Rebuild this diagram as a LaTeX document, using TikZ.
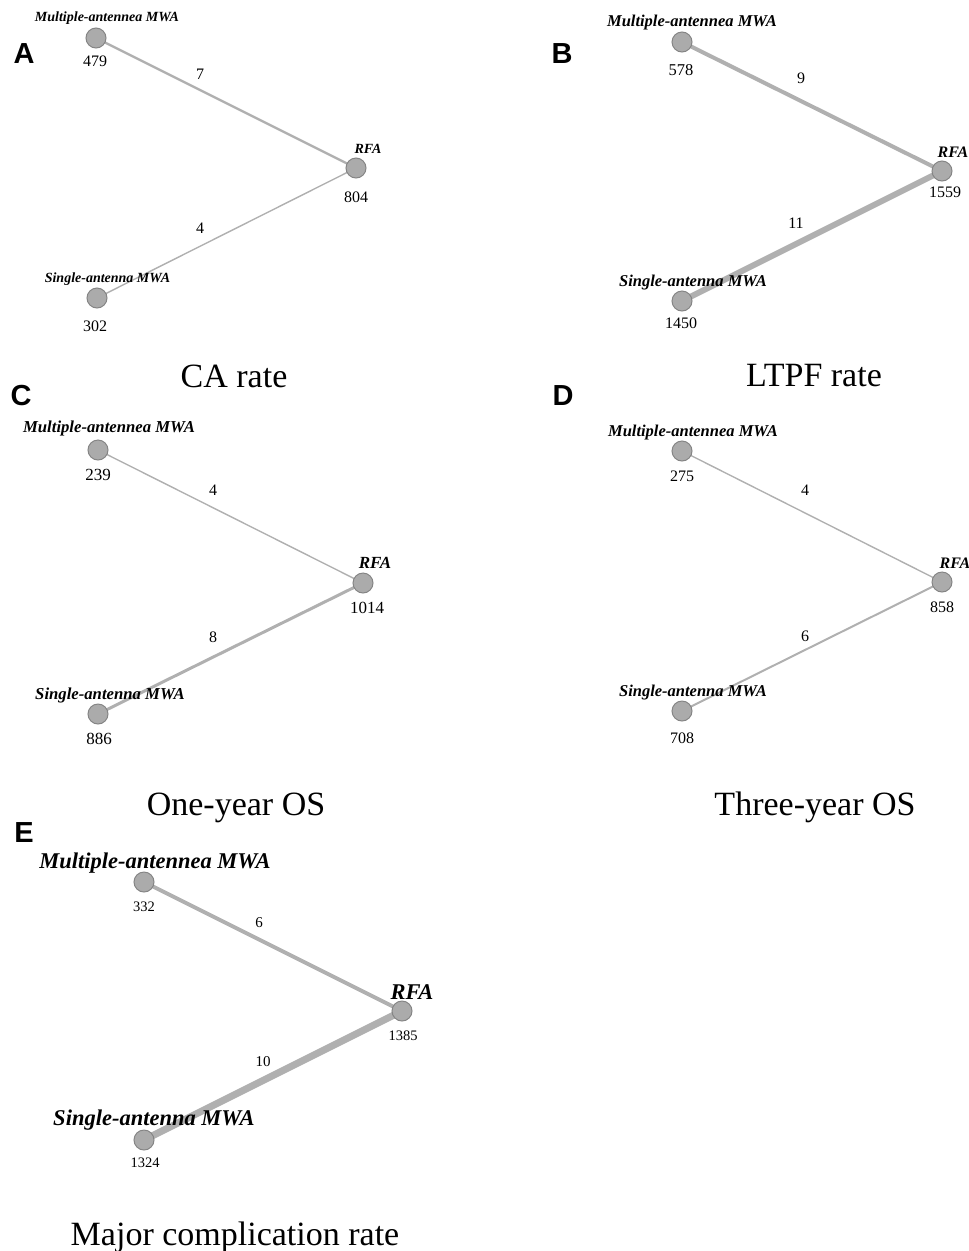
\documentclass[tikz,border=0pt]{standalone}
\usepackage{fontspec}
\setmainfont{Liberation Serif}
\newfontfamily\panelfont{Liberation Sans}
\usetikzlibrary{backgrounds}
\definecolor{nodefill}{HTML}{ABABAB}
\definecolor{nodeline}{HTML}{858585}
\definecolor{edgecol}{HTML}{B0B0B0}
\tikzset{
 netnode/.style={circle, fill=nodefill, draw=nodeline, line width=1pt, minimum size=20pt, inner sep=0pt},
 edge/.style={draw=edgecol, line cap=round},
 lab/.style={anchor=base, inner sep=0pt, font=\bfseries\itshape\fontsize{#1}{#1}\selectfont},
 num/.style={anchor=base, inner sep=0pt, font=\fontsize{#1}{#1}\selectfont},
 captext/.style={anchor=base, inner sep=0pt, font=\fontsize{34}{34}\selectfont},
 letter/.style={anchor=base, inner sep=0pt, font=\panelfont\bfseries\fontsize{29}{29}\selectfont},
}
\begin{document}
\begin{tikzpicture}[x=1pt,y=-1pt]
\useasboundingbox (0,0) rectangle (969,1251);

% ---------- Panel A ----------
\node[letter] (Aletter) at (24,63) {A};
\node[netnode] (Am) at (96,38) {};
\node[netnode] (Ar) at (356,168) {};
\node[netnode] (As) at (97,298) {};
\node[lab=14] (Aml) at (107,21) {Multiple-antennea MWA};
\node[num=16] (Amn) at (95,66) {479};
\node[lab=14] (Arl) at (368,153) {RFA};
\node[num=16] (Arn) at (356,202) {804};
\node[lab=14] (Asl) at (107.5,282) {Single-antenna MWA};
\node[num=16] (Asn) at (95,331) {302};
\node[num=16] (Ae1) at (200,79) {7};
\node[num=16] (Ae2) at (200,233) {4};
\node[captext] (Acap) at (234,387) {CA rate};

% ---------- Panel B ----------
\node[letter] (Bletter) at (562,63) {B};
\node[netnode] (Bm) at (682,42) {};
\node[netnode] (Br) at (942,171) {};
\node[netnode] (Bs) at (682,301) {};
\node[lab=16.5] (Bml) at (692,26) {Multiple-antennea MWA};
\node[num=16.5] (Bmn) at (681,75) {578};
\node[lab=16] (Brl) at (953,157) {RFA};
\node[num=16] (Brn) at (945,197) {1559};
\node[lab=16.5] (Bsl) at (693,286) {Single-antenna MWA};
\node[num=16] (Bsn) at (681,328) {1450};
\node[num=16] (Be1) at (801,83) {9};
\node[num=16] (Be2) at (796,228) {11};
\node[captext] (Bcap) at (814,386) {LTPF rate};

% ---------- Panel C ----------
\node[letter] (Cletter) at (21,405) {C};
\node[netnode] (Cm) at (98,450) {};
\node[netnode] (Cr) at (363,583) {};
\node[netnode] (Cs) at (98,714) {};
\node[lab=16.7] (Cml) at (109,432) {Multiple-antennea MWA};
\node[num=17] (Cmn) at (98,480) {239};
\node[lab=17] (Crl) at (375,568) {RFA};
\node[num=17] (Crn) at (367,613) {1014};
\node[lab=16.7] (Csl) at (110,699) {Single-antenna MWA};
\node[num=17] (Csn) at (99,744) {886};
\node[num=16] (Ce1) at (213,495) {4};
\node[num=16] (Ce2) at (213,642) {8};
\node[captext] (Ccap) at (236,815) {One-year OS};

% ---------- Panel D ----------
\node[letter] (Dletter) at (563,405) {D};
\node[netnode] (Dm) at (682,451) {};
\node[netnode] (Dr) at (942,582) {};
\node[netnode] (Ds) at (682,711) {};
\node[lab=16.5] (Dml) at (693,436) {Multiple-antennea MWA};
\node[num=16] (Dmn) at (682,481) {275};
\node[lab=16] (Drl) at (955,568) {RFA};
\node[num=16] (Drn) at (942,612) {858};
\node[lab=16.5] (Dsl) at (693,696) {Single-antenna MWA};
\node[num=16] (Dsn) at (682,743) {708};
\node[num=16] (De1) at (805,495) {4};
\node[num=16] (De2) at (805,641) {6};
\node[captext] (Dcap) at (815,815) {Three-year OS};

% ---------- Panel E ----------
\node[letter] (Eletter) at (24,842) {E};
\node[netnode] (Em) at (144,882) {};
\node[netnode] (Er) at (402,1011) {};
\node[netnode] (Es) at (144,1140) {};
\node[lab=22.5] (Eml) at (155,868) {Multiple-antennea MWA};
\node[num=14.5] (Emn) at (144,911) {332};
\node[lab=22.5] (Erl) at (412,999) {RFA};
\node[num=14.5] (Ern) at (403,1040) {1385};
\node[lab=22.5] (Esl) at (154,1125) {Single-antenna MWA};
\node[num=14.5] (Esn) at (145,1167) {1324};
\node[num=15] (Ee1) at (259,927) {6};
\node[num=15] (Ee2) at (263,1066) {10};
\node[captext] (Ecap) at (235,1245) {Major complication rate};

\begin{scope}[on background layer]
\draw[edge, line width=2.4pt] (Am.center) -- (Ar.center);
\draw[edge, line width=1.4pt] (As.center) -- (Ar.center);
\draw[edge, line width=4pt] (Bm.center) -- (Br.center);
\draw[edge, line width=6pt] (Bs.center) -- (Br.center);
\draw[edge, line width=1.4pt] (Cm.center) -- (Cr.center);
\draw[edge, line width=3pt] (Cs.center) -- (Cr.center);
\draw[edge, line width=1.4pt] (Dm.center) -- (Dr.center);
\draw[edge, line width=2pt] (Ds.center) -- (Dr.center);
\draw[edge, line width=4pt] (Em.center) -- (Er.center);
\draw[edge, line width=7pt] (Es.center) -- (Er.center);
\end{scope}
\end{tikzpicture}
\end{document}
